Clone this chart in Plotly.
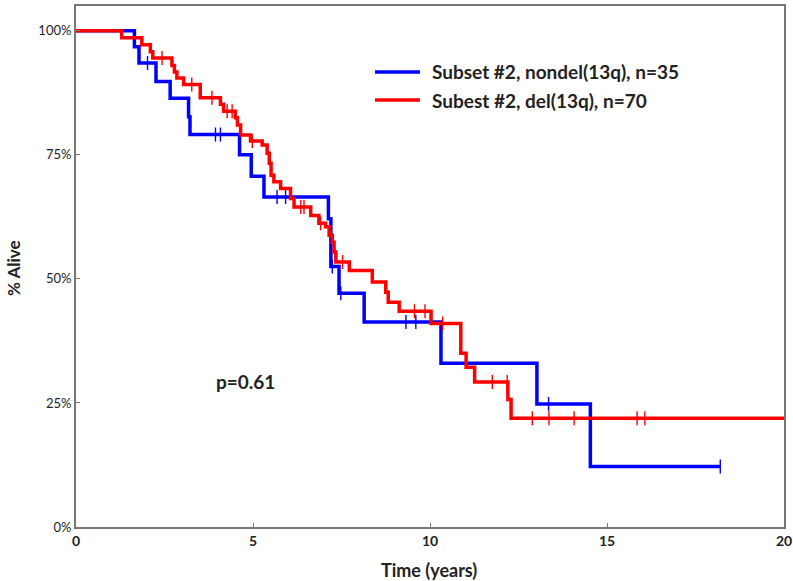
import numpy as np
import plotly.graph_objects as go

# Kaplan-Meier step data (time in years, survival fraction)
blue_name = "Subset #2, nondel(13q), n=35"
blue_t = [0, 1.65, 1.78, 2.26, 2.66, 3.18, 3.22, 4.62, 4.95, 5.31, 7.13, 7.20, 7.43, 8.14, 10.31, 13.02, 14.53, 18.2]
blue_s = [1.0, 0.968, 0.935, 0.898, 0.864, 0.827, 0.791, 0.750, 0.707, 0.665, 0.621, 0.525, 0.471, 0.413, 0.330, 0.248, 0.122, 0.122]
blue_cens = [2.02, 3.94, 4.08, 5.68, 5.92, 7.24, 7.48, 9.32, 9.60, 13.35, 18.2]

red_name = "Subest #2, del(13q), n=70"
red_t = [0, 1.29, 1.86, 2.10, 2.17, 2.71, 2.78, 2.85, 3.04, 3.51, 4.08, 4.17, 4.50, 4.56, 4.65, 4.93,
         5.26, 5.40, 5.46, 5.51, 5.59, 5.78, 6.06, 6.16, 6.63, 6.86, 7.05, 7.15, 7.24, 7.29, 7.34, 7.72,
         8.37, 8.75, 8.82, 9.13, 10.03, 10.87, 11.02, 11.26, 12.20, 12.29, 20.0]
red_s = [1.0, 0.986, 0.972, 0.958, 0.945, 0.930, 0.917, 0.905, 0.892, 0.865, 0.852, 0.838, 0.825, 0.810, 0.790, 0.778,
         0.770, 0.753, 0.733, 0.709, 0.696, 0.682, 0.662, 0.645, 0.628, 0.612, 0.605, 0.588, 0.574, 0.554, 0.534, 0.517,
         0.494, 0.473, 0.453, 0.435, 0.410, 0.350, 0.322, 0.292, 0.257, 0.219, 0.219]
red_cens = [2.43, 3.27, 3.84, 4.27, 4.41, 4.98, 6.35, 6.44, 6.91, 7.53, 9.56, 9.86, 10.36, 11.76, 12.18,
            12.89, 13.36, 14.07, 15.85, 16.07]

x_ticks = [0, 5, 10, 15, 20]
y_ticks = [0, 0.25, 0.5, 0.75, 1.0]
y_labels = ["0%", "25%", "50%", "75%", "100%"]
p_text = "p=0.61"
x_title = "Time (years)"
y_title = "% Alive"

FONT = "Lato"
TXT = "#222222"
W, H = 793, 581
ML, MR, MT, MB = 76, 9, 6, 54
PW, PH = W - ML - MR, H - MT - MB


def px_x(px):
    return (px - ML) / PW


def px_y(py):
    return (MT + PH - py) / PH


def surv_at(times, surv, pts):
    t = np.asarray(times)
    s = np.asarray(surv)
    idx = np.searchsorted(t, np.asarray(pts), side="right") - 1
    return s[idx]


series = [(blue_name, blue_t, blue_s, blue_cens, "#0000FF"),
          (red_name, red_t, red_s, red_cens, "#FF0000")]

fig = go.Figure()
for name, t, s, c, col in series:
    fig.add_trace(go.Scatter(x=t, y=s, mode="lines", line=dict(color=col, width=3.5, shape="hv"),
                             name=name, showlegend=False))
    fig.add_trace(go.Scatter(x=c, y=surv_at(t, s, c), mode="markers",
                             marker=dict(symbol="line-ns-open", size=10, color=col,
                                         line=dict(color=col, width=1.4)),
                             showlegend=False, hoverinfo="skip"))

# manual legend (line sample + text)
for i, (name, t, s, c, col) in enumerate(series):
    yy = px_y(72 + 28 * i)
    fig.add_shape(type="line", xref="paper", yref="paper", x0=px_x(375), x1=px_x(420), y0=yy, y1=yy,
                  line=dict(color=col, width=3.5))
    fig.add_annotation(x=px_x(430), y=yy, xref="paper", yref="paper", text=name, showarrow=False,
                       xanchor="left", yanchor="middle",
                       font=dict(family=FONT, size=19, color=TXT, weight="bold"))

fig.add_annotation(x=4.79, y=0.293, text=p_text, showarrow=False, xref="x", yref="y",
                   font=dict(family=FONT, size=19, color=TXT, weight="bold"))

fig.add_annotation(x=px_x(429), y=px_y(570), xref="paper", yref="paper", text=x_title, showarrow=False,
                   xanchor="center", yanchor="middle",
                   font=dict(family=FONT, size=18, color=TXT, weight="bold"))
fig.add_annotation(x=px_x(13), y=px_y(268), xref="paper", yref="paper", text=y_title, showarrow=False,
                   xanchor="center", yanchor="middle", textangle=-90,
                   font=dict(family=FONT, size=17, color=TXT, weight="bold"))

fig.update_layout(
    width=W, height=H,
    margin=dict(l=ML, r=MR, t=MT, b=MB, autoexpand=False),
    paper_bgcolor="white", plot_bgcolor="white",
    font=dict(family=FONT, color=TXT),
    showlegend=False,
    xaxis=dict(range=[0, 20], tickvals=x_ticks, ticktext=[str(v) for v in x_ticks], automargin=False,
               showgrid=False, zeroline=False, showline=True, linecolor="#777777", linewidth=2,
               mirror=True, ticks="inside", ticklen=4, tickcolor="#777777",
               tickfont=dict(family=FONT, size=14, color=TXT, weight="bold")),
    yaxis=dict(range=[0, 1.05], tickvals=y_ticks, ticktext=y_labels, automargin=False,
               showgrid=False, zeroline=False, showline=True, linecolor="#777777", linewidth=2,
               mirror=True, ticks="inside", ticklen=4, tickcolor="#777777",
               tickfont=dict(family=FONT, size=13, color=TXT)),
)

fig.write_html("out.html", config={"displayModeBar": False},
               post_script="document.body.style.margin='0';document.body.style.overflow='hidden';")
